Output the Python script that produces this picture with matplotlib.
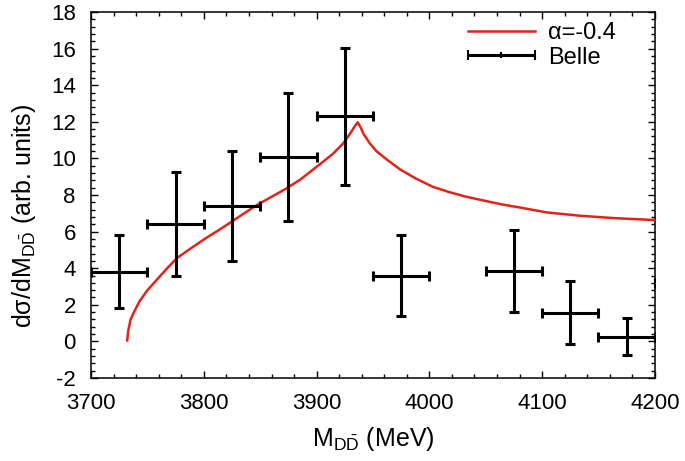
import matplotlib
matplotlib.use("Agg")
import matplotlib.pyplot as plt
from matplotlib.ticker import MultipleLocator
from matplotlib.legend_handler import HandlerErrorbar

plt.rcParams['font.family'] = ['Liberation Sans', 'DejaVu Sans']
plt.rcParams['mathtext.fontset'] = 'custom'
plt.rcParams['mathtext.rm'] = 'Liberation Sans'
plt.rcParams['mathtext.it'] = 'Liberation Sans'
plt.rcParams['axes.unicode_minus'] = False

# Belle data
belle_x = [3725, 3775, 3825, 3875, 3925, 3975, 4075, 4125, 4175, 4225]
belle_y = [3.8, 6.4, 7.4, 10.1, 12.3, 3.6, 3.85, 1.57, 0.26, 3.2]
belle_yerr = [2.0, 2.85, 3.03, 3.5, 3.75, 2.23, 2.24, 1.73, 1.0, 2.0]
belle_xerr = [25] * 10

# Model curve alpha = -0.4
curve_x = [3732, 3733, 3735, 3738, 3743, 3750, 3758, 3766, 3776, 3790, 3802,
           3815, 3826, 3837, 3847, 3860, 3873, 3885, 3895, 3905, 3915, 3924,
           3930, 3934, 3936.5, 3939, 3941.5, 3947, 3953, 3962, 3974, 3988,
           4003, 4018, 4033, 4048, 4063, 4080, 4104, 4133, 4163, 4200]
curve_y = [0.05, 0.6, 1.2, 1.6, 2.2, 2.8, 3.35, 3.9, 4.55, 5.15, 5.65,
           6.15, 6.6, 7.05, 7.45, 7.9, 8.35, 8.82, 9.3, 9.78, 10.28, 10.85,
           11.38, 11.77, 11.97, 11.7, 11.35, 10.84, 10.4, 9.95, 9.4, 8.9,
           8.45, 8.15, 7.9, 7.7, 7.5, 7.32, 7.05, 6.87, 6.74, 6.63]

fig = plt.figure(figsize=(6.85, 4.61), dpi=100)
ax = fig.add_axes([0.133, 0.180, 0.823, 0.794])

red_line, = ax.plot(curve_x, curve_y, color='#e2231a', lw=1.8, zorder=3)
ax.errorbar(belle_x, belle_y, xerr=belle_xerr, yerr=belle_yerr, fmt='none',
            ecolor='black', elinewidth=2.2, capsize=3.5, capthick=2.2,
            zorder=4)
# legend proxy for Belle (horizontal bar with caps), placed outside the axes range
belle_proxy = ax.errorbar([5000], [5], xerr=[1], fmt='|', color='black',
                          markersize=4, markeredgewidth=1.5,
                          ecolor='black', elinewidth=2.2, capsize=3.5,
                          capthick=2.2)

ax.set_xlim(3700, 4200)
ax.set_ylim(-2, 18)
ax.xaxis.set_major_locator(MultipleLocator(100))
ax.xaxis.set_minor_locator(MultipleLocator(20))
ax.yaxis.set_major_locator(MultipleLocator(2))
ax.yaxis.set_minor_locator(MultipleLocator(0.4))
ax.tick_params(which='both', direction='in', top=True, right=True,
               labelsize=16, width=1.0)
ax.tick_params(axis='x', which='major', length=5, pad=11)
ax.tick_params(axis='y', which='major', length=5, pad=11)
ax.tick_params(which='minor', length=3)
for s in ax.spines.values():
    s.set_linewidth(1.1)

ax.set_xlabel(r'M$_{\mathrm{D\bar{D}}}$ (MeV)', fontsize=18)
ax.xaxis.set_label_coords(0.5, -0.128)
ax.set_ylabel(r'dσ/dM$_{\mathrm{D\bar{D}}}$ (arb. units)', fontsize=18)
ax.yaxis.set_label_coords(-0.095, 0.443)

leg = ax.legend([red_line, belle_proxy], ['α=-0.4', 'Belle'],
                loc='upper left', bbox_to_anchor=(0.668, 0.972),
                frameon=False, fontsize=17, borderpad=0, borderaxespad=0,
                handlelength=2.84, handletextpad=0.55, labelspacing=0.1,
                handler_map={type(belle_proxy): HandlerErrorbar(xerr_size=1.42)})

fig.savefig('out.png', dpi=100)
